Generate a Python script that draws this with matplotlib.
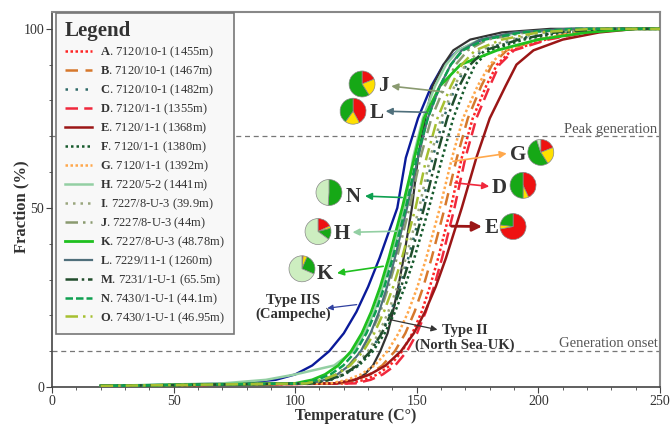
import matplotlib.pyplot as plt
from matplotlib.lines import Line2D

plt.rcParams['font.family'] = ['Liberation Serif', 'DejaVu Serif']
plt.rcParams['mathtext.fontset'] = 'custom'
plt.rcParams['mathtext.rm'] = 'Liberation Serif'
plt.rcParams['mathtext.bf'] = 'Liberation Serif:bold'

# fraction levels (%) shared by every curve; each curve lists the temperature (C) at which it reaches them
levels = [0.3, 1, 2, 3.5, 6, 10, 15, 21, 28, 36, 50, 64, 75, 84, 90, 94, 97, 99, 100, 100]

temp_A = [20, 122, 128.6, 133.8, 139, 144, 148.2, 152, 155.4, 158.8, 164, 168.5, 173, 178.5, 183, 189, 203, 218, 238, 250]
temp_B = [20, 118.6, 125.2, 130.5, 135.8, 141, 145.3, 149.1, 152.7, 156.1, 161.5, 166.5, 171, 176.5, 181, 187, 200, 215, 235, 250]
temp_C = [20, 108, 114.8, 120.3, 125.7, 131, 135.4, 139.3, 143, 146.5, 152, 156.5, 161, 166, 170.5, 177, 190, 205, 228, 250]
temp_D = [20, 124.7, 131, 136, 141.1, 146, 150.1, 153.7, 157.1, 160.4, 165.5, 170, 174.5, 180, 184, 190, 204, 220, 240, 250]
temp_E = [20, 116.2, 124.2, 130.7, 137.2, 143.5, 148.8, 153.4, 157.8, 162, 168.5, 174.5, 180, 186.5, 191, 198, 210, 225, 240, 250]
temp_F = [20, 107, 114.3, 120.3, 126.2, 132, 136.8, 141.1, 145.1, 149, 155, 160.5, 165, 170, 174, 180, 194, 210, 230, 250]
temp_G = [20, 114.5, 121.4, 127, 132.6, 138, 142.5, 146.5, 150.3, 153.9, 159.5, 164.5, 169, 175, 180, 186, 200, 215, 235, 250]
temp_H = [20, 70, 88, 100, 116, 124, 128.5, 132.5, 136, 139.5, 145, 148.5, 152.5, 157.5, 162, 167, 176, 192, 215, 250]
temp_I = [20, 107, 113.8, 119.3, 124.7, 130, 134.4, 138.3, 142, 145.5, 151, 155.5, 160, 165.5, 170, 176, 188, 203, 225, 250]
temp_J = [20, 105, 111.6, 116.8, 122, 127, 131.2, 135, 138.4, 141.8, 147, 151.5, 156, 161.5, 166, 171, 179, 195, 218, 250]
temp_K = [20, 100, 107, 112.3, 117.7, 123, 127.4, 131.3, 135, 138.5, 144, 149, 153, 159.5, 168, 183, 200, 220, 240, 250]
temp_L = [20, 106, 112.3, 117.3, 122.2, 127, 131, 134.5, 137.8, 141, 146, 150.5, 154.5, 159.5, 164, 168.5, 176, 190, 212, 250]
temp_M = [20, 107, 114, 119.8, 125.5, 131, 135.6, 139.8, 143.6, 147.3, 153, 158, 162.5, 167.5, 172, 178, 192, 207, 228, 250]
temp_N = [20, 102.6, 109, 114.5, 119.8, 125, 129.3, 133.1, 136.7, 140.1, 145.5, 150, 154.5, 159.5, 164, 169, 178, 193, 215, 250]
temp_O = [20, 104.5, 111.4, 117, 122.6, 128, 132.5, 136.5, 140.3, 143.9, 149.5, 154, 158.5, 164, 168.5, 174, 185, 200, 222, 250]
temp_IIS = [23, 75, 92, 100, 107, 114, 120, 125.2, 130, 134.7, 142, 145.5, 150.5, 156, 161, 167, 177, 192, 215, 250]
temp_II = [20, 118, 125, 128.5, 132, 135, 138, 140.2, 142.4, 144.6, 148, 150.5, 153.5, 156.5, 161, 165, 172, 185, 205, 250]

sample_ids = ['A', 'B', 'C', 'D', 'E', 'F', 'G', 'H', 'I', 'J', 'K', 'L', 'M', 'N', 'O']
sample_names = ['7120/10-1 (1455m)', '7120/10-1 (1467m)', '7120/10-1 (1482m)',
                '7120/1-1 (1355m)', '7120/1-1 (1368m)', '7120/1-1 (1380m)',
                '7120/1-1 (1392m)', '7220/5-2 (1441m)', '7227/8-U-3 (39.9m)',
                '7227/8-U-3 (44m)', '7227/8-U-3 (48.78m)', '7229/11-1 (1260m)',
                '7231/1-U-1 (65.5m)', '7430/1-U-1 (44.1m)', '7430/1-U-1 (46.95m)']
sample_temps = [temp_A, temp_B, temp_C, temp_D, temp_E, temp_F, temp_G, temp_H,
                temp_I, temp_J, temp_K, temp_L, temp_M, temp_N, temp_O]

colors = ['#ff2424', '#d6782c', '#2f6a68', '#f0283c', '#9b1616', '#165a2c', '#ffa84c',
          '#93cfa3', '#9aa67e', '#8a9a70', '#1fc01f', '#4f6f7b', '#214d2c', '#0ea050', '#a6c030']
styles = [(0, (1, 1)), (0, (5, 3)), (0, (1, 3)), (0, (5, 2.5)), '-', (0, (1, 1.2)), (0, (1, 1)),
          '-', (0, (1, 2)), (0, (5, 2, 1, 2)), '-', '-', (0, (5, 1.5, 1, 1.5)), (0, (3, 1.2)),
          (0, (5, 2, 1, 2))]
widths = [1.8, 1.8, 1.8, 1.8, 1.8, 1.8, 1.8, 1.8, 1.8, 1.8, 2.0, 1.6, 1.8, 1.8, 1.8]

# pie charts: clockwise from 12 o'clock -> red, yellow, green, light green (%)
pie_colors = ['#ee1111', '#ffe000', '#16a816', '#cdeec0']
pie_J = [19, 22, 59, 0]
pie_L = [42, 18, 40, 0]
pie_N = [0, 0, 51, 49]
pie_H = [18, 3, 14, 65]
pie_K = [1.5, 5, 25, 68.5]
pie_G = [19, 22, 54, 5]
pie_D = [43, 7, 50, 0]
pie_E = [72, 5, 23, 0]

fig = plt.figure(figsize=(6.7, 4.24), dpi=100)
ax = fig.add_axes([0.0776, 0.0873, 0.9074, 0.8844])

ax.axhline(70, color='#777777', lw=0.9, ls=(0, (4, 3)), zorder=1)
ax.axhline(10, color='#777777', lw=0.9, ls=(0, (4, 3)), zorder=1)
ax.text(249, 70.2, 'Peak generation', ha='right', va='bottom', fontsize=10.5, color='#555555')
ax.text(249, 10.2, 'Generation onset', ha='right', va='bottom', fontsize=10.5, color='#555555')

ax.plot(temp_IIS, levels, color='#0a1a9a', lw=1.7, zorder=3)
ax.plot(temp_II, levels, color='#333333', lw=1.6, zorder=3)

handles = []
for sid, name, t, c, s, w in zip(sample_ids, sample_names, sample_temps, colors, styles, widths):
    ax.plot(t, levels, color=c, ls=s, lw=w, zorder=4)
    handles.append(Line2D([], [], color=c, ls=s, lw=w,
                          label=r'$\mathbf{' + sid + '}$. ' + name))

ax.set_xlim(0, 250)
ax.set_ylim(0, 104.7)
ax.set_xticks([0, 50, 100, 150, 200, 250])
ax.set_xticks(range(0, 251, 10), minor=True)
ax.set_yticks([0, 50, 100])
ax.set_yticks(range(0, 101, 10), minor=True)
ax.tick_params(which='major', length=4, color='#444444', labelsize=10, labelcolor='#333333', pad=1.5)
ax.tick_params(which='minor', length=2.5, color='#444444')
for side in ['left', 'bottom']:
    ax.spines[side].set_color('#444444')
    ax.spines[side].set_linewidth(1.2)
for side in ['top', 'right']:
    ax.spines[side].set_color('#888888')
    ax.spines[side].set_linewidth(1.5)

ax.set_xlabel('Temperature (C°)', fontsize=11.5, fontweight='bold', color='#333333')
ax.set_ylabel('Fraction (%)', fontsize=12, fontweight='bold', color='#333333')
ax.xaxis.set_label_coords(0.5, -0.0555)
ax.yaxis.set_label_coords(-0.037, 0.48)

leg = ax.legend(handles=handles, loc='upper left', bbox_to_anchor=(0.007, 0.998),
                borderaxespad=0, fontsize=9, title='Legend', alignment='left',
                title_fontproperties={'weight': 'bold', 'size': 15},
                handlelength=2.2, handletextpad=0.6, labelspacing=0.28,
                fancybox=False, framealpha=1, facecolor='#f8f8f8', edgecolor='#777777',
                borderpad=0.7)
leg.get_frame().set_linewidth(1.2)
for txt in leg.get_texts():
    txt.set_color('#333333')
leg.get_title().set_color('#333333')
leg.set_zorder(10)


def add_pie(t, f, fracs):
    w, h = 11.0, 7.5
    pax = ax.inset_axes([t - w / 2, f - h / 2, w, h], transform=ax.transData)
    vals = [v for v in fracs if v > 0]
    cols = [c for v, c in zip(fracs, pie_colors) if v > 0]
    pax.pie(vals, colors=cols, startangle=90, counterclock=False,
            wedgeprops=dict(edgecolor='#888888', linewidth=0.5))
    pax.set_xlim(-1.03, 1.03)
    pax.set_ylim(-1.03, 1.03)
    pax.set_aspect('equal')
    pax.axis('off')


def arrow(tail, head, color, lw=1.2, scale=10):
    ax.annotate('', xy=head, xytext=tail,
                arrowprops=dict(arrowstyle='-|>', color=color, lw=lw, mutation_scale=scale,
                                shrinkA=0, shrinkB=0), zorder=6)


def letter(t, f, s):
    ax.text(t, f, s, fontsize=15, fontweight='bold', color='#333333', ha='center', va='center')


# left side annotations
add_pie(127.5, 84.6, pie_J)
letter(136.1, 84.0, 'J')
arrow((161, 82.4), (139.5, 84.0), '#8a9a70')

add_pie(123.8, 77.0, pie_L)
letter(133.6, 76.4, 'L')
arrow((154, 76.7), (137.2, 77.0), '#4f6f7b')

add_pie(113.9, 54.3, pie_N)
letter(123.8, 53.0, 'N')
arrow((144, 52.9), (128.7, 53.3), '#0ea050')

add_pie(109.4, 43.4, pie_H)
letter(119.2, 42.8, 'H')
arrow((141.7, 43.5), (123.6, 43.2), '#93cfa3')

add_pie(102.8, 33.0, pie_K)
letter(112.3, 31.6, 'K')
arrow((136.2, 33.7), (117.2, 31.8), '#1fc01f')

ax.text(99.1, 22.2, 'Type IIS\n(Campeche)', fontsize=10.5, fontweight='bold', color='#333333',
        ha='center', va='center', linespacing=1.1)
arrow((125.3, 23.0), (113.2, 22.0), '#3040a0', lw=0.9, scale=8)

ax.text(169.8, 13.7, 'Type II\n(North Sea-UK)', fontsize=10.5, fontweight='bold', color='#333333',
        ha='center', va='center', linespacing=1.1)
arrow((139, 18.8), (158.5, 16.0), '#333333', lw=0.9, scale=9)

# right side annotations
add_pie(201.0, 65.5, pie_G)
letter(191.6, 64.8, 'G')
arrow((164.9, 63.0), (187.0, 65.2), '#ffa84c')

add_pie(193.7, 56.3, pie_D)
letter(183.8, 55.6, 'D')
arrow((165.7, 57.0), (179.8, 56.0), '#f0283c')

add_pie(189.6, 44.8, pie_E)
letter(180.7, 44.4, 'E')
arrow((164.3, 44.9), (176.8, 44.8), '#9b1616', lw=2.0, scale=14)

fig.savefig('out.png', dpi=100)
